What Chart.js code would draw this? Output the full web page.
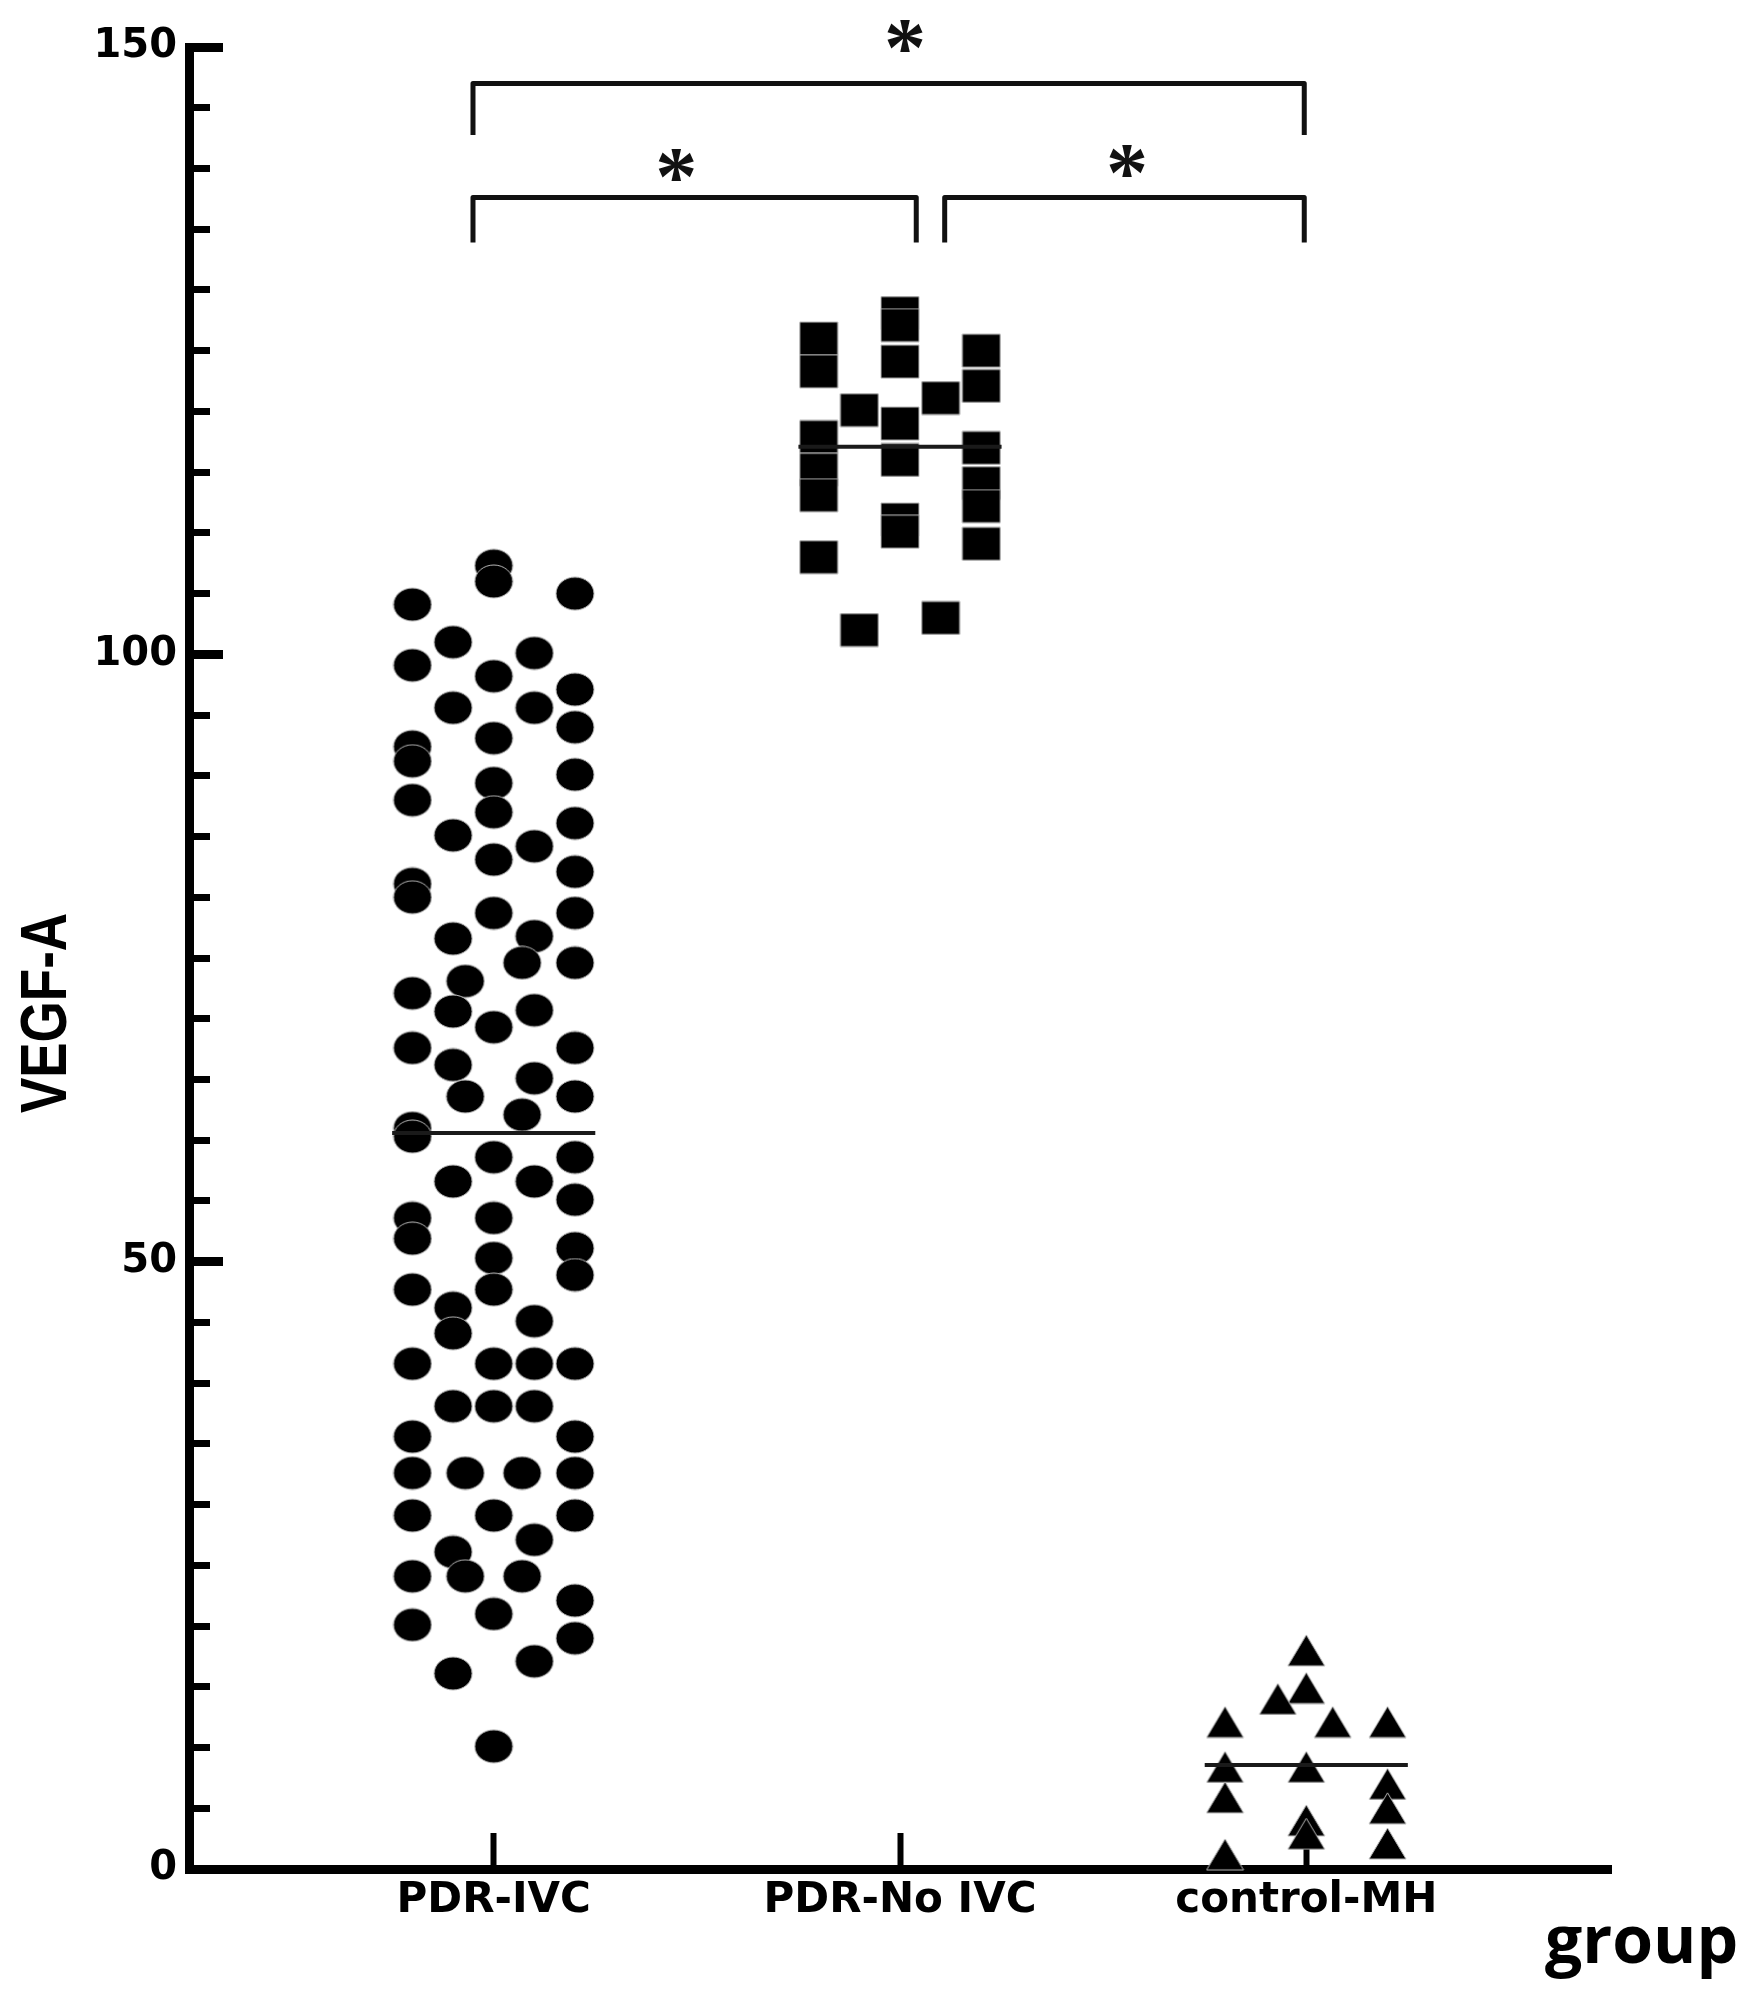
<!DOCTYPE html>
<html>
<head>
<meta charset="utf-8">
<title>VEGF-A by group</title>
<script src="https://cdn.jsdelivr.net/npm/chart.js@4.4.1/dist/chart.umd.min.js"></script>
<style>
  html, body { margin: 0; padding: 0; background: #fff; }
  #wrap { width: 1748px; height: 1994px; }
</style>
</head>
<body>
<div id="wrap"><canvas id="chart" width="1748" height="1994"></canvas></div>
<script>
// groups on the x axis
const groupLabels = ['PDR-IVC', 'PDR-No IVC', 'control-MH'];
const groupPositions = [1, 2, 3];

// PDR-IVC (circles): value + horizontal jitter inside the column
const ivcValues = [
  107.3, 106.0, 105.0, 104.1, 101.0, 100.1, 99.1, 98.2, 97.1, 95.6,
  95.6, 94.0, 93.1, 92.4, 91.2, 90.1, 89.4, 88.0, 87.0, 86.1,
  85.1, 84.2, 83.1, 82.1, 81.1, 80.0, 78.7, 78.7, 76.6, 76.8,
  74.6, 74.6, 73.1, 72.1, 70.6, 70.7, 69.3, 67.6, 67.6, 66.2,
  65.1, 63.6, 63.6, 62.1, 61.0, 60.3, 58.6, 58.6, 56.6, 56.6,
  55.1, 53.6, 53.6, 51.9, 51.1, 48.9, 50.3, 47.7, 47.7, 46.2,
  44.1, 45.1, 41.6, 41.6, 41.6, 41.6, 38.1, 38.1, 38.1, 35.6,
  35.6, 32.6, 32.6, 32.6, 32.6, 29.1, 29.1, 29.1, 27.1, 26.1,
  24.1, 24.1, 24.1, 22.1, 21.0, 20.1, 19.0, 17.1, 16.1, 10.1
];
const ivcJitter = [
  0, 0, 0.2, -0.2, -0.1, 0.1, -0.2, 0, 0.2, -0.1,
  0.1, 0.2, 0, -0.2, -0.2, 0.2, 0, -0.2, 0, 0.2,
  -0.1, 0.1, 0, 0.2, -0.2, -0.2, 0, 0.2, -0.1, 0.1,
  0.07, 0.2, -0.07, -0.2, -0.1, 0.1, 0, -0.2, 0.2, -0.1,
  0.1, -0.07, 0.2, 0.07, -0.2, -0.2, 0, 0.2, -0.1, 0.1,
  0.2, 0, -0.2, -0.2, 0.2, 0.2, 0, 0, -0.2, -0.1,
  -0.1, 0.1, -0.2, 0, 0.1, 0.2, -0.1, 0, 0.1, -0.2,
  0.2, -0.2, -0.07, 0.07, 0.2, -0.2, 0, 0.2, 0.1, -0.1,
  -0.2, -0.07, 0.07, 0.2, 0, -0.2, 0.2, 0.1, -0.1, 0
];

// PDR-No IVC (squares)
const noIvcValues = [
  126.0, 123.3, 117.9, 115.2, 113.1, 108.0,
  120.1, 102.0,
  128.1, 127.1, 124.1, 119.0, 116.0, 111.1, 110.1,
  121.1, 103.0,
  125.0, 122.1, 117.0, 114.1, 112.2, 109.1
];
const noIvcJitter = [
  -0.2, -0.2, -0.2, -0.2, -0.2, -0.2,
  -0.1, -0.1,
  0, 0, 0, 0, 0, 0, 0,
  0.1, 0.1,
  0.2, 0.2, 0.2, 0.2, 0.2, 0.2
];

// control-MH (triangles)
const mhValues = [18.0, 14.9, 14.0, 12.1, 12.1, 12.1, 8.4, 8.4, 7.0, 5.9, 5.0, 4.0, 2.9, 2.1, 1.2];
const mhJitter = [0, 0, -0.07, -0.2, 0.065, 0.2, -0.2, 0, 0.2, -0.2, 0.2, 0, 0, 0.2, -0.2];

// group mean lines
const groupMeans = [60.6, 117.1, 8.56];

// significance brackets: [x from, x to, y of bar, y of leg ends] in data units
const brackets = [
  [0.949, 2.995, 147.0, 142.75],
  [0.949, 2.04, 137.6, 133.9],
  [2.11, 2.995, 137.6, 133.9]
];
const starMarks = [[2.012, 150.9], [1.449, 140.3], [2.559, 140.6]];

function toPoints(group, jitter, values) {
  return values.map((v, i) => ({ x: group + jitter[i], y: v }));
}

// markers are slightly wider than tall in the reference, so draw them as images
function makeMarker(shape, w, h) {
  const c = document.createElement('canvas');
  c.width = w + 2;
  c.height = h + 2;
  const g = c.getContext('2d');
  g.fillStyle = '#000';
  g.strokeStyle = '#b8b8b8';
  g.lineWidth = 1;
  g.beginPath();
  if (shape === 'ellipse') {
    g.ellipse(c.width / 2, c.height / 2, w / 2, h / 2, 0, 0, Math.PI * 2);
  } else if (shape === 'rect') {
    g.rect(1, 1, w, h);
  } else {
    g.moveTo(c.width / 2, 1);
    g.lineTo(1 + w, 1 + h);
    g.lineTo(1, 1 + h);
    g.closePath();
  }
  g.fill();
  g.stroke();
  return c;
}

const circleImg = makeMarker('ellipse', 38, 33);
const squareImg = makeMarker('rect', 38, 33);
const triangleImg = makeMarker('triangle', 37, 31);

function meanLine(group, mean) {
  return {
    type: 'line',
    data: [{ x: group - 0.25, y: mean }, { x: group + 0.25, y: mean }],
    borderColor: '#1a1a1a',
    borderWidth: 4,
    pointRadius: 0,
    clip: false
  };
}

const tickFont = { family: '"DejaVu Sans", sans-serif', weight: 'bold', size: 42 };

// extra text and brackets drawn on top of the plot
const annotationPlugin = {
  id: 'annotations',
  afterDraw(chart) {
    const ctx = chart.ctx;
    const xs = chart.scales.x;
    const ys = chart.scales.y;
    ctx.save();

    ctx.strokeStyle = '#111';
    ctx.lineWidth = 5;
    ctx.lineJoin = 'round';
    brackets.forEach(([x1, x2, yBar, yLeg]) => {
      ctx.beginPath();
      ctx.moveTo(xs.getPixelForValue(x1), ys.getPixelForValue(yLeg));
      ctx.lineTo(xs.getPixelForValue(x1), ys.getPixelForValue(yBar));
      ctx.lineTo(xs.getPixelForValue(x2), ys.getPixelForValue(yBar));
      ctx.lineTo(xs.getPixelForValue(x2), ys.getPixelForValue(yLeg));
      ctx.stroke();
    });

    ctx.fillStyle = '#111';
    ctx.font = 'bold 84px "Liberation Serif", serif';
    ctx.textAlign = 'center';
    ctx.textBaseline = 'alphabetic';
    const m = ctx.measureText('*');
    const shift = (m.actualBoundingBoxAscent - m.actualBoundingBoxDescent) / 2;
    starMarks.forEach(([x, y]) => {
      ctx.fillText('*', xs.getPixelForValue(x), ys.getPixelForValue(y) + shift);
    });

    // y axis title
    ctx.fillStyle = '#000';
    ctx.save();
    ctx.translate(48, 1013);
    ctx.rotate(-Math.PI / 2);
    ctx.scale(1, 1.22);
    ctx.font = 'bold 53px "Liberation Sans", Arial, sans-serif';
    ctx.textAlign = 'center';
    ctx.textBaseline = 'middle';
    ctx.fillText('VEGF-A', 0, 0);
    ctx.restore();

    // x axis title, bottom right
    ctx.font = 'bold 66px "Open Sans", sans-serif';
    ctx.textAlign = 'left';
    ctx.textBaseline = 'alphabetic';
    ctx.fillText('group', 1545, 1963);

    ctx.restore();
  }
};

new Chart(document.getElementById('chart'), {
  type: 'scatter',
  data: {
    datasets: [
      meanLine(groupPositions[0], groupMeans[0]),
      meanLine(groupPositions[1], groupMeans[1]),
      meanLine(groupPositions[2], groupMeans[2]),
      {
        label: groupLabels[0],
        data: toPoints(groupPositions[0], ivcJitter, ivcValues),
        pointStyle: circleImg,
        pointRadius: 19,
        clip: false
      },
      {
        label: groupLabels[1],
        data: toPoints(groupPositions[1], noIvcJitter, noIvcValues),
        pointStyle: squareImg,
        pointRadius: 19,
        clip: false
      },
      {
        label: groupLabels[2],
        data: toPoints(groupPositions[2], mhJitter, mhValues),
        pointStyle: triangleImg,
        pointRadius: 19,
        clip: false
      }
    ]
  },
  options: {
    responsive: false,
    animation: false,
    devicePixelRatio: 1,
    layout: { padding: { top: 47, right: 137, bottom: 0, left: 0 } },
    plugins: {
      legend: { display: false },
      tooltip: { enabled: false }
    },
    scales: {
      x: {
        type: 'linear',
        position: 'bottom',
        min: 0.25,
        max: 3.75,
        afterBuildTicks: (scale) => {
          scale.ticks = groupPositions.map(v => ({ value: v }));
        },
        afterFit: (scale) => { scale.height = 125; },
        border: { display: true, color: '#000', width: 9 },
        grid: { drawOnChartArea: false, tickLength: -36, tickWidth: 6, tickColor: '#000' },
        ticks: {
          padding: 43,
          color: '#000',
          font: tickFont,
          maxRotation: 0,
          callback: (value) => groupLabels[groupPositions.indexOf(value)]
        }
      },
      y: {
        type: 'linear',
        position: 'left',
        weight: 1,
        min: 0,
        max: 150,
        afterFit: (scale) => {
          scale.width = 189;
          // the big label padding would otherwise push the plot top down
          scale.paddingTop = 0;
          scale.paddingBottom = 0;
        },
        border: { display: true, color: '#000', width: 9 },
        grid: { drawOnChartArea: false, tickLength: -34, tickWidth: 9, tickColor: '#000' },
        ticks: {
          stepSize: 50,
          padding: 46,
          color: '#000',
          font: { family: '"DejaVu Sans", sans-serif', weight: 'bold', size: 40 }
        }
      },
      yMinor: {
        type: 'linear',
        position: 'left',
        weight: 0,
        min: 0,
        max: 150,
        afterFit: (scale) => { scale.width = 0; },
        border: { display: false },
        grid: { drawOnChartArea: false, tickLength: -21, tickWidth: 7, tickColor: '#000' },
        ticks: { stepSize: 5, display: false }
      }
    }
  },
  plugins: [annotationPlugin]
});
</script>
</body>
</html>
